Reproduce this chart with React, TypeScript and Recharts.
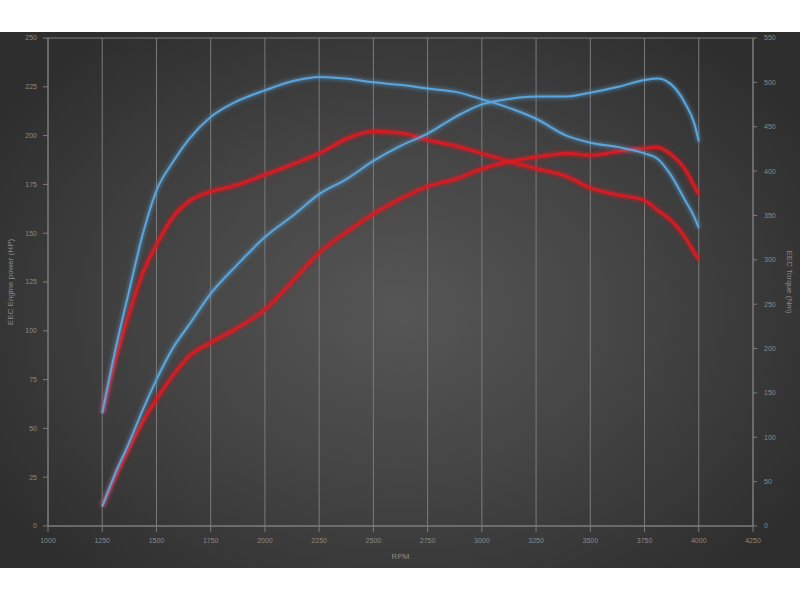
import React from "react";
import {
  LineChart,
  Line,
  XAxis,
  YAxis,
  CartesianGrid,
  Label,
} from "recharts";

// Engine speed sample points (RPM)
const rpm = [
  1250, 1310, 1375, 1435, 1500, 1575, 1650, 1750, 1865, 2000, 2140, 2250, 2380,
  2500, 2630, 2750, 2885, 3000, 3140, 3250, 3390, 3500, 3630, 3750, 3810, 3870,
  3935, 3980, 4000,
];

// Tuned engine power (HP, left axis)
const tunedPower = [
  10, 27, 43, 59, 75, 91, 103, 119, 133, 148, 160, 170, 178, 187, 195, 201, 210,
  216, 219, 220, 220, 222, 225, 228.5, 229.3, 226.5, 217, 206, 197,
];

// Tuned torque (Nm, right axis)
const tunedTorque = [
  127, 198, 266, 327, 378, 410, 436, 461, 478, 491, 502, 506, 504, 500, 497, 493,
  489, 481, 470, 459, 440, 432, 427, 420, 414, 396, 368, 348, 336,
];

// Stock engine power (HP, left axis)
const stockPower = [
  10, 25, 40, 53, 65, 77, 87, 94, 101, 111, 127, 140, 151, 160, 168, 174, 178,
  183, 187, 189, 191, 190, 192, 193.5, 194, 190.5, 183, 174, 170,
];

// Stock torque (Nm, right axis)
const stockTorque = [
  127, 187, 240, 284, 317, 348, 366, 377, 384, 396, 409, 420, 437, 445, 443, 435,
  428, 420, 410, 403, 394, 381, 373, 367, 356, 345, 326, 308, 300,
];

const rpmTicks = [1000, 1250, 1500, 1750, 2000, 2250, 2500, 2750, 3000, 3250, 3500, 3750, 4000, 4250];
const powerTicks = [0, 25, 50, 75, 100, 125, 150, 175, 200, 225, 250];
const torqueTicks = [0, 50, 100, 150, 200, 250, 300, 350, 400, 450, 500, 550];

const data = rpm.map((r, i) => ({
  rpm: r,
  tunedPower: tunedPower[i],
  tunedTorque: tunedTorque[i],
  stockPower: stockPower[i],
  stockTorque: stockTorque[i],
}));

const RED = "#d41a22";
const BLUE = "#5aa6dc";
const GRID = "#7c7c7c";
const TEXT = "#8a8a8a";
const FONT = "'Liberation Sans', Arial, sans-serif";

const tickStyle = { fill: TEXT, fontSize: 7, fontFamily: FONT };

export default function App() {
  return (
    <div
      style={{
        position: "absolute",
        left: 0,
        top: 0,
        width: 800,
        height: 600,
        background: "#ffffff",
        overflow: "hidden",
      }}
    >
      <svg width={0} height={0} style={{ position: "absolute" }}>
        <defs>
          <filter id="glowRed" x="-20%" y="-20%" width="140%" height="140%">
            <feGaussianBlur in="SourceGraphic" stdDeviation="2.2" result="blur" />
            <feMerge>
              <feMergeNode in="blur" />
              <feMergeNode in="SourceGraphic" />
            </feMerge>
          </filter>
          <filter id="glowBlue" x="-20%" y="-20%" width="140%" height="140%">
            <feGaussianBlur in="SourceGraphic" stdDeviation="2" result="blur" />
            <feMerge>
              <feMergeNode in="blur" />
              <feMergeNode in="SourceGraphic" />
            </feMerge>
          </filter>
        </defs>
      </svg>
      <div
        style={{
          position: "absolute",
          left: 0,
          top: 32,
          width: 800,
          height: 536,
          background:
            "radial-gradient(ellipse 60% 65% at 50% 52%, #565656 0%, #444444 50%, #2e2e2e 100%)",
        }}
      >
        <LineChart
          width={800}
          height={536}
          data={data}
          margin={{ top: 6, right: 0, bottom: 0, left: 0 }}
        >
          <CartesianGrid stroke={GRID} strokeWidth={1} />
          <XAxis
            dataKey="rpm"
            type="number"
            domain={[1000, 4250]}
            ticks={rpmTicks}
            interval={0}
            height={42}
            stroke={GRID}
            tickSize={6}
            tickMargin={6}
            tick={tickStyle}
            tickLine={{ stroke: GRID }}
          >
            <Label
              value="RPM"
              position="insideBottom"
              offset={9}
              style={{ fill: TEXT, fontSize: 8, fontFamily: FONT }}
            />
          </XAxis>
          <YAxis
            yAxisId="power"
            orientation="left"
            domain={[0, 250]}
            ticks={powerTicks}
            interval={0}
            width={48}
            stroke={GRID}
            tickSize={5}
            tickMargin={6}
            tick={tickStyle}
          >
            <Label
              value="EEC Engine power (HP)"
              angle={-90}
              position="insideLeft"
              offset={10}
              style={{ fill: TEXT, fontSize: 8, fontFamily: FONT, textAnchor: "middle" }}
            />
          </YAxis>
          <YAxis
            yAxisId="torque"
            orientation="right"
            domain={[0, 550]}
            ticks={torqueTicks}
            interval={0}
            width={47}
            stroke={GRID}
            tickSize={4}
            tickMargin={7}
            tick={tickStyle}
          >
            <Label
              value="EEC Torque (Nm)"
              angle={90}
              position="insideRight"
              offset={10}
              style={{ fill: TEXT, fontSize: 8, fontFamily: FONT, textAnchor: "middle" }}
            />
          </YAxis>
          <Line
            yAxisId="torque"
            dataKey="stockTorque"
            type="monotone"
            stroke={RED}
            strokeWidth={3}
            dot={false}
            isAnimationActive={false}
            filter="url(#glowRed)"
          />
          <Line
            yAxisId="power"
            dataKey="stockPower"
            type="monotone"
            stroke={RED}
            strokeWidth={3}
            dot={false}
            isAnimationActive={false}
            filter="url(#glowRed)"
          />
          <Line
            yAxisId="torque"
            dataKey="tunedTorque"
            type="monotone"
            stroke={BLUE}
            strokeWidth={2}
            dot={false}
            isAnimationActive={false}
            filter="url(#glowBlue)"
          />
          <Line
            yAxisId="power"
            dataKey="tunedPower"
            type="monotone"
            stroke={BLUE}
            strokeWidth={2}
            dot={false}
            isAnimationActive={false}
            filter="url(#glowBlue)"
          />
        </LineChart>
      </div>
    </div>
  );
}
